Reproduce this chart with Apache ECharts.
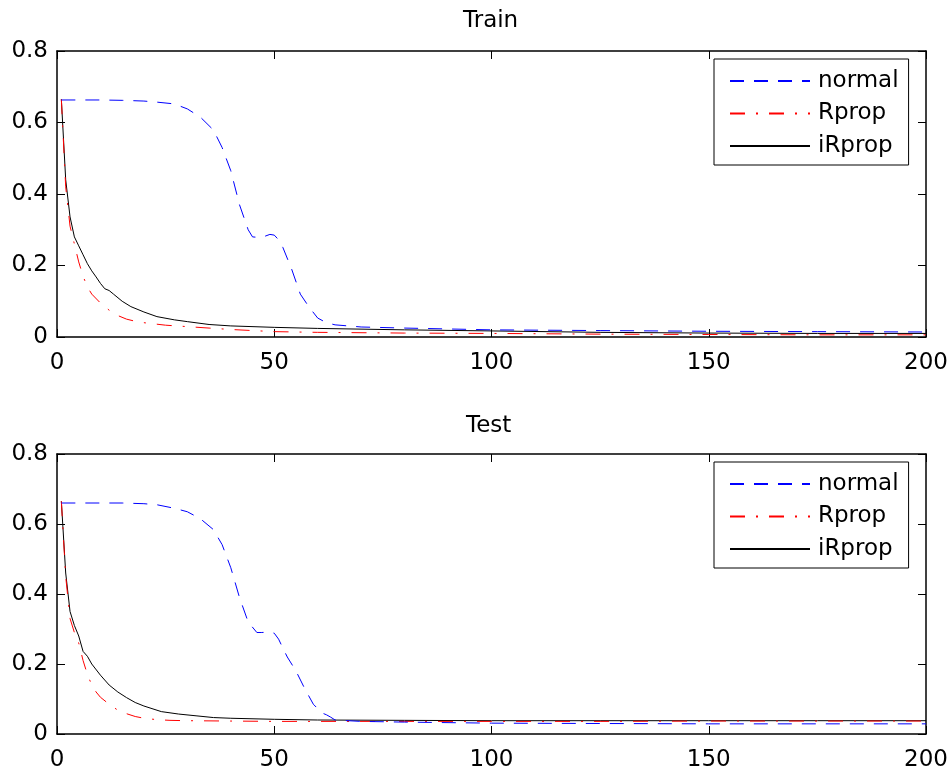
<!DOCTYPE html>
<html>
<head>
<meta charset="utf-8">
<script src="https://cdn.jsdelivr.net/npm/echarts@6/dist/echarts.min.js"></script>
<style>
html,body{margin:0;padding:0;background:#fff;}
#chart{width:951px;height:772px;}
</style>
</head>
<body>
<div id="chart"></div>
<script>
// ---- Data ----
const titles = ['Train', 'Test'];
const seriesNames = ['normal', 'Rprop', 'iRprop'];
const xTicks = [0, 50, 100, 150, 200];
const yTicks = [0, 0.2, 0.4, 0.6, 0.8];

// Train
const trainNormalX = [1,5,10,15,20,23,27,30,33,36,38,40,42,44,45,47,49,50,51,52,54,56,58,60,62,64,70,80,100,125,150,175,200];
const trainNormalY = [0.663,0.663,0.663,0.662,0.66,0.657,0.652,0.638,0.615,0.579,0.53,0.465,0.37,0.3,0.28,0.278,0.287,0.285,0.272,0.25,0.19,0.12,0.084,0.053,0.04,0.034,0.028,0.025,0.02,0.018,0.016,0.015,0.014];

const trainRpropX = [1,2,3,4,5,6,7,8,10,12,14,16,18,20,25,30,35,40,50,60,80,100,125,150,175,200];
const trainRpropY = [0.665,0.42,0.31,0.26,0.21,0.17,0.14,0.12,0.095,0.075,0.06,0.05,0.044,0.04,0.033,0.029,0.025,0.021,0.015,0.013,0.011,0.01,0.008,0.007,0.006,0.006];

const trainIRpropX = [1,2,3,4,5,6,7,8,9,10,11,12,13,15,17,20,23,27,30,35,40,50,60,80,100,125,150,175,200];
const trainIRpropY = [0.665,0.44,0.336,0.28,0.255,0.23,0.205,0.185,0.168,0.15,0.135,0.13,0.12,0.1,0.085,0.07,0.057,0.048,0.043,0.035,0.031,0.027,0.024,0.02,0.017,0.013,0.011,0.01,0.01];

// Test
const testNormalX = [1,5,10,15,20,23,27,30,33,36,38,40,42,44,46,47,49,50,51,52,53,55,57,59,61,62,63,64,70,80,100,125,150,175,200];
const testNormalY = [0.66,0.66,0.66,0.66,0.658,0.655,0.645,0.635,0.615,0.584,0.541,0.475,0.39,0.32,0.29,0.29,0.291,0.288,0.271,0.245,0.22,0.18,0.13,0.085,0.06,0.055,0.048,0.04,0.036,0.034,0.031,0.03,0.029,0.029,0.029];

const testRpropX = [1,2,3,4,5,6,7,8,9,10,12,14,16,18,20,23,26,30,40,50,60,80,100,125,150,175,200];
const testRpropY = [0.665,0.45,0.33,0.29,0.26,0.21,0.17,0.14,0.12,0.105,0.085,0.068,0.058,0.05,0.045,0.041,0.039,0.038,0.037,0.036,0.036,0.036,0.036,0.036,0.037,0.037,0.037];

const testIRpropX = [1,2,3,4,5,6,7,8,10,12,14,16,18,20,24,28,32,36,40,50,60,80,100,125,150,175,200];
const testIRpropY = [0.665,0.46,0.35,0.31,0.28,0.236,0.222,0.2,0.168,0.14,0.12,0.104,0.09,0.08,0.064,0.057,0.052,0.047,0.045,0.042,0.04,0.039,0.038,0.038,0.038,0.038,0.038];

// ---- Build ----
function pairs(xs, ys) { return xs.map((x, i) => [x, ys[i]]); }

const FONT = 'DejaVu Sans';
const FS = 23;
const colors = ['#0000ff', '#ff0000', '#000000'];
const dashes = [[14, 10], [15, 11, 2, 11], 'solid'];

const grids = [
  { left: 57, top: 51, width: 869, height: 286 },
  { left: 57, top: 454, width: 869, height: 281 }
];

const axisLineStyle = { color: '#000', width: 1.5 };

const xAxes = [], yAxes = [];
grids.forEach((g, gi) => {
  xAxes.push({
    type: 'value', gridIndex: gi, min: 0, max: 200, interval: 50, position: 'bottom',
    axisLine: { show: true, onZero: false, lineStyle: axisLineStyle },
    axisTick: { show: true, inside: true, length: 8, lineStyle: { color: '#000', width: 1 } },
    axisLabel: { show: true, color: '#000', fontSize: FS, fontFamily: FONT, margin: 15 },
    splitLine: { show: false }
  });
  xAxes.push({
    type: 'value', gridIndex: gi, min: 0, max: 200, interval: 50, position: 'top',
    axisLine: { show: true, onZero: false, lineStyle: axisLineStyle },
    axisTick: { show: true, inside: true, length: 8, lineStyle: { color: '#000', width: 1 } },
    axisLabel: { show: false },
    splitLine: { show: false }
  });
  yAxes.push({
    type: 'value', gridIndex: gi, min: 0, max: 0.8, interval: 0.2, position: 'left',
    axisLine: { show: true, onZero: false, lineStyle: axisLineStyle },
    axisTick: { show: true, inside: true, length: 8, lineStyle: { color: '#000', width: 1 } },
    axisLabel: { show: true, color: '#000', fontSize: FS, fontFamily: FONT, margin: 9,
      formatter: v => (Math.round(v * 10) / 10).toString() },
    splitLine: { show: false }
  });
  yAxes.push({
    type: 'value', gridIndex: gi, min: 0, max: 0.8, interval: 0.2, position: 'right',
    axisLine: { show: true, onZero: false, lineStyle: axisLineStyle },
    axisTick: { show: true, inside: true, length: 8, lineStyle: { color: '#000', width: 1 } },
    axisLabel: { show: false },
    splitLine: { show: false }
  });
});

const dataSets = [
  [pairs(trainNormalX, trainNormalY), pairs(trainRpropX, trainRpropY), pairs(trainIRpropX, trainIRpropY)],
  [pairs(testNormalX, testNormalY), pairs(testRpropX, testRpropY), pairs(testIRpropX, testIRpropY)]
];

const series = [];
dataSets.forEach((sets, gi) => {
  sets.forEach((d, si) => {
    series.push({
      name: seriesNames[si], type: 'line',
      xAxisIndex: gi * 2, yAxisIndex: gi * 2,
      data: d, symbol: 'none', showSymbol: false, smooth: false,
      animation: false,
      lineStyle: { color: colors[si], width: 1, type: dashes[si] },
      itemStyle: { color: colors[si] },
      z: 3 - si
    });
  });
});

const legends = [59, 462].map(top => ({
  orient: 'vertical', left: 714, top: top,
  data: seriesNames, itemWidth: 80, itemHeight: 14, itemGap: 6.5,
  borderColor: '#000', borderWidth: 1, padding: [9, 10, 6, 15],
  backgroundColor: '#fff', selectedMode: false,
  itemStyle: { color: 'rgba(0,0,0,0)', borderColor: 'rgba(0,0,0,0)', borderWidth: 0, opacity: 0 },
  textStyle: { color: '#000', fontSize: FS, fontFamily: FONT, lineHeight: 26, padding: [0, 0, 0, 3] }
}));

const titleOpts = titles.map((t, i) => ({
  text: t, left: i === 0 ? 463 : 466, top: i === 0 ? 10 : 415, padding: 0,
  textStyle: { color: '#000', fontSize: FS, fontFamily: FONT, fontWeight: 'normal' }
}));

const chart = echarts.init(document.getElementById('chart'), null, { renderer: 'canvas' });
chart.setOption({
  backgroundColor: '#fff',
  animation: false,
  title: titleOpts,
  legend: legends,
  grid: grids.map(g => Object.assign({ containLabel: false }, g)),
  xAxis: xAxes,
  yAxis: yAxes,
  series: series
});
</script>
</body>
</html>
